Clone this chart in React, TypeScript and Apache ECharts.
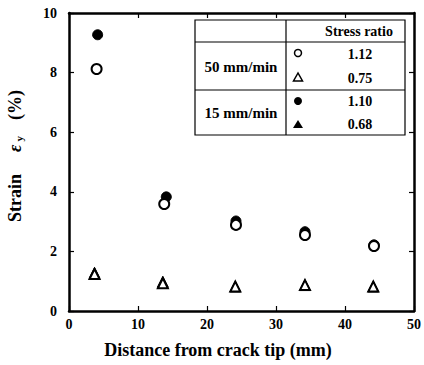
import React, { useEffect, useRef } from "react";
import * as echarts from "echarts";

const distance = [4, 14, 24, 34, 44];
const open112 = [8.12, 3.59, 2.89, 2.55, 2.18];
const open075 = [1.24, 0.93, 0.82, 0.87, 0.82];
const filled110 = [9.27, 3.83, 3.02, 2.66, 2.22];
const filled068 = [1.28, 0.98, 0.82, 0.87, 0.82];
const filledX110 = [4.15, 14.1, 24.2, 34.2, 44.2];
const openX = [4.0, 13.8, 24.2, 34.2, 44.2];
const triX = [3.7, 13.6, 24.1, 34.2, 44.1];

const xTicks = [0, 10, 20, 30, 40, 50];
const yTicks = [0, 2, 4, 6, 8, 10];

const FONT = "'Liberation Serif', 'Times New Roman', serif";

export default function App() {
  const ref = useRef<HTMLDivElement>(null);
  useEffect(() => {
    if (!ref.current) return;
    const chart = echarts.init(ref.current, undefined, { renderer: "svg" });
    const pair = (xs: number[], ys: number[]) => xs.map((x, i) => [x, ys[i]]);
    void distance;
    const axisCommon = {
      min: 0,
      splitLine: { show: false },
      axisLine: { show: true, onZero: false, lineStyle: { color: "#000", width: 2.5 } },
      axisTick: { show: true, inside: true, length: 5, lineStyle: { color: "#000", width: 1.2 } },
    };
    const openStyle = { color: "#fff", borderColor: "#000", borderWidth: 2, opacity: 1 };
    const filledStyle = { color: "#000", borderColor: "#000", borderWidth: 1, opacity: 1 };
    chart.setOption({
      animation: false,
      backgroundColor: "#fff",
      grid: { left: 69, right: 9, top: 13, bottom: 54, containLabel: false },
      xAxis: [
        {
          ...axisCommon,
          type: "value",
          max: xTicks[xTicks.length - 1],
          interval: 10,
          position: "bottom",
          axisLabel: { color: "#000", fontFamily: FONT, fontSize: 14, fontWeight: "bold", margin: 6 },
        },
        {
          ...axisCommon,
          type: "value",
          max: xTicks[xTicks.length - 1],
          interval: 10,
          position: "top",
          axisLabel: { show: false },
        },
      ],
      yAxis: [
        {
          ...axisCommon,
          type: "value",
          max: yTicks[yTicks.length - 1],
          interval: 2,
          position: "left",
          axisLabel: { color: "#000", fontFamily: FONT, fontSize: 14, fontWeight: "bold", margin: 12 },
        },
        {
          ...axisCommon,
          type: "value",
          max: yTicks[yTicks.length - 1],
          interval: 2,
          position: "right",
          axisLabel: { show: false },
        },
      ],
      series: [
        { type: "scatter", name: "15 mm/min 1.10", symbol: "circle", symbolSize: 10, itemStyle: filledStyle, data: pair(filledX110, filled110), z: 2 },
        { type: "scatter", name: "50 mm/min 1.12", symbol: "circle", symbolSize: 10, itemStyle: openStyle, data: pair(openX, open112), z: 3 },
        { type: "scatter", name: "15 mm/min 0.68", symbol: "triangle", symbolSize: 11, itemStyle: filledStyle, data: pair(triX, filled068), z: 2 },
        { type: "scatter", name: "50 mm/min 0.75", symbol: "triangle", symbolSize: 10, itemStyle: openStyle, data: pair(triX, open075), z: 3 },
      ],
      graphic: [
        // legend table
        { type: "rect", shape: { x: 195, y: 20, width: 210, height: 115 }, style: { fill: "#fff", stroke: "#000", lineWidth: 1.2 }, z: 10 },
        { type: "line", shape: { x1: 195, y1: 42, x2: 405, y2: 42 }, style: { stroke: "#000", lineWidth: 1.2 }, z: 11 },
        { type: "line", shape: { x1: 195, y1: 90, x2: 405, y2: 90 }, style: { stroke: "#000", lineWidth: 1.2 }, z: 11 },
        { type: "line", shape: { x1: 286, y1: 20, x2: 286, y2: 135 }, style: { stroke: "#000", lineWidth: 1.2 }, z: 11 },
        { type: "text", x: 359, y: 31, style: { text: "Stress ratio", font: `bold 14px ${FONT}`, fill: "#000", align: "center", verticalAlign: "middle" }, z: 11 },
        { type: "text", x: 241, y: 67, style: { text: "50 mm/min", font: `bold 15px ${FONT}`, fill: "#000", align: "center", verticalAlign: "middle" }, z: 11 },
        { type: "text", x: 241, y: 113, style: { text: "15 mm/min", font: `bold 15px ${FONT}`, fill: "#000", align: "center", verticalAlign: "middle" }, z: 11 },
        { type: "text", x: 360, y: 54, style: { text: "1.12", font: `bold 14px ${FONT}`, fill: "#000", align: "center", verticalAlign: "middle" }, z: 11 },
        { type: "text", x: 360, y: 78, style: { text: "0.75", font: `bold 14px ${FONT}`, fill: "#000", align: "center", verticalAlign: "middle" }, z: 11 },
        { type: "text", x: 360, y: 101, style: { text: "1.10", font: `bold 14px ${FONT}`, fill: "#000", align: "center", verticalAlign: "middle" }, z: 11 },
        { type: "text", x: 360, y: 124, style: { text: "0.68", font: `bold 14px ${FONT}`, fill: "#000", align: "center", verticalAlign: "middle" }, z: 11 },
        { type: "circle", shape: { cx: 298, cy: 53, r: 3.5 }, style: { fill: "#fff", stroke: "#000", lineWidth: 1.5 }, z: 11 },
        { type: "polygon", shape: { points: [[298, 73], [293.5, 81], [302.5, 81]] }, style: { fill: "#fff", stroke: "#000", lineWidth: 1.5 }, z: 11 },
        { type: "circle", shape: { cx: 298, cy: 101, r: 4 }, style: { fill: "#000" }, z: 11 },
        { type: "polygon", shape: { points: [[298, 120], [293, 128], [303, 128]] }, style: { fill: "#000" }, z: 11 },
        // axis titles
        { type: "text", x: 218, y: 350, style: { text: "Distance from crack tip (mm)", font: `bold 18px ${FONT}`, fill: "#000", align: "center", verticalAlign: "middle" }, z: 11 },
        {
          type: "text",
          x: 15,
          y: 156,
          rotation: Math.PI / 2,
          style: {
            text: "{a|Strain}{e|ε}{s|y}{p|(%)}",
            align: "center",
            verticalAlign: "middle",
            fill: "#000",
            rich: {
              a: { font: `bold 18px ${FONT}`, fill: "#000" },
              e: { font: `italic bold 18px ${FONT}`, fill: "#000", padding: [0, 0, 0, 22] },
              s: { font: `bold 11px ${FONT}`, fill: "#000", padding: [8, 0, 0, 3] },
              p: { font: `bold 18px ${FONT}`, fill: "#000", padding: [0, 0, 0, 16] },
            },
          },
          z: 11,
        },
      ],
    });
    return () => chart.dispose();
  }, []);
  return <div ref={ref} style={{ position: "fixed", left: 0, top: 0, width: 424, height: 365 }} />;
}
